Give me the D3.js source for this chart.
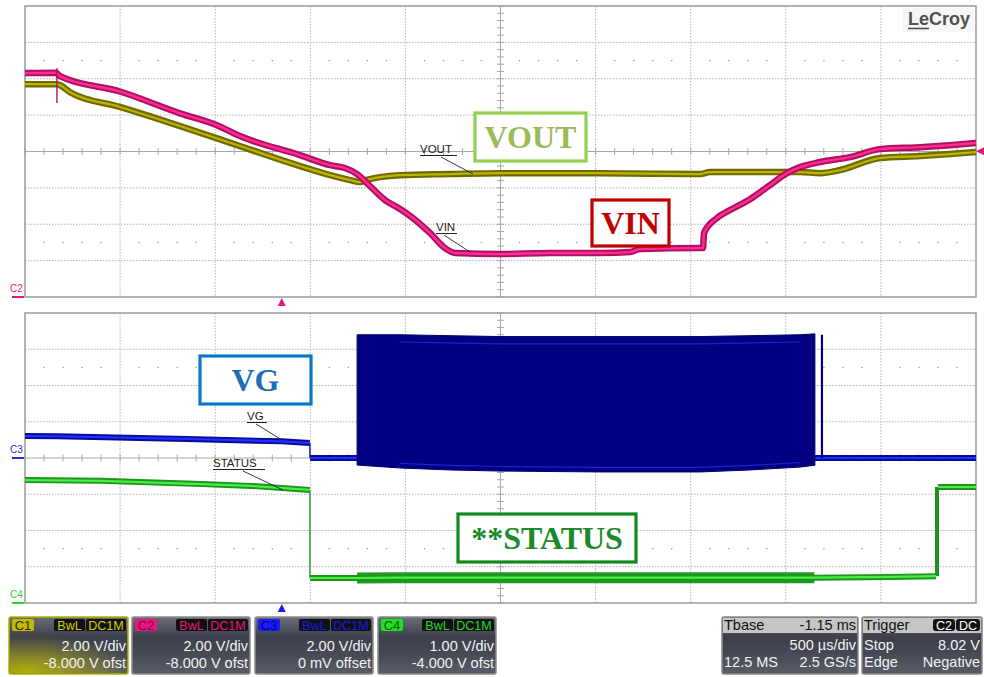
<!DOCTYPE html>
<html><head><meta charset="utf-8">
<script src="https://cdn.jsdelivr.net/npm/d3@7"></script>
<style>
body{margin:0;background:#fff;}
svg{display:block;font-family:"Liberation Sans",Arial,sans-serif;}
</style>
</head><body>
<svg id="c" width="984" height="677"></svg>
<script>
// ---------- DATA (time in ms, voltages in V) ----------
const timeDomain = [-1.35, 3.65];          // Tbase -1.15 ms, 500 µs/div, 10 div
const divTimes = d3.range(0, 11).map(i => -1.35 + 0.5 * i);

// C2 – VIN (2 V/div, -8 V offset)
const vinTime  = [-1.35,-1.187,-1.166,-0.851,-0.535,-0.341,-0.220,0.096,0.254,0.332,0.396,0.464,0.543,0.622,0.690,0.779,0.858,0.911,1.147,1.410,1.673,1.831,1.884,2.199,2.215,2.220,2.288,2.357,2.462,2.567,2.656,2.725,2.830,2.988,3.145,3.356,3.513,3.650];
const vinVolts = [12.31,12.33,12.14,11.30,10.10,9.45,8.85,7.80,7.25,7.09,6.76,6.10,5.33,4.84,4.34,3.52,2.69,2.42,2.36,2.42,2.42,2.47,2.64,2.69,2.69,3.52,4.34,4.78,5.38,6.15,6.81,7.14,7.42,7.69,8.13,8.24,8.35,8.47];
const vinGlitchTime = -1.182, vinGlitchRange = [10.66, 12.58];

// C1 – VOUT (2 V/div, -8 V offset)
const voutTime  = [-1.35,-1.182,-1.166,-1.113,-0.851,-0.535,-0.220,0.096,0.254,0.359,0.411,0.443,0.516,0.622,0.884,1.147,1.673,2.199,2.251,2.725,2.830,2.935,3.145,3.356,3.513,3.650];
const voutVolts = [11.70,11.70,11.65,11.26,10.45,9.40,8.30,7.20,6.70,6.43,6.32,6.43,6.59,6.70,6.76,6.81,6.81,6.76,6.87,6.87,6.81,6.98,7.64,7.75,7.86,7.97];

// C3 – VG (2 V/div, 0 offset)
const vgTime  = [-1.35,-1.182,-0.50,0.0,0.147,0.149,0.396,2.803,2.84,3.65];
const vgVolts = [1.21,1.20,1.05,0.92,0.83,0.0,0.0,0.0,0.0,0.0];
const vgBurstTime = [0.396,0.622,0.884,1.147,1.673,2.199,2.462,2.725,2.803];
const vgBurstHigh = [6.80,6.80,6.75,6.70,6.70,6.70,6.75,6.80,6.85];
const vgBurstLow  = [-0.39,-0.55,-0.66,-0.72,-0.77,-0.77,-0.66,-0.50,-0.40];
const vgSpikeTime = 2.84, vgSpikeHigh = 6.80;

// C4 – STATUS (1 V/div, -4 V offset)
const statusTime  = [-1.35,-0.95,-0.42,-0.16,0.147,0.149,0.396,0.60,1.50,2.80,3.20,3.44,3.45,3.65];
const statusVolts = [3.39,3.37,3.28,3.23,3.12,0.69,0.69,0.70,0.70,0.70,0.72,0.74,3.20,3.20];
const statusNoiseTime = [0.396,2.803];

// annotation texts
const bigLabels = ["VOUT","VIN","VG","**STATUS"];
const smallLabels = ["VOUT","VIN","VG","STATUS"];
const chanNames = ["C1","C2","C3","C4"];
const chanScales = ["2.00 V/div","2.00 V/div","2.00 V/div","1.00 V/div"];
const chanOffsets = ["-8.000 V ofst","-8.000 V ofst","0 mV offset","-4.000 V ofst"];
const chanColors = ["#c2bb00","#e8167f","#1a1aff","#22e022"];
const chanBadgeText = ["#2b2a00","#8a0040","#00007a","#0a5a0a"];
const chanTagText = ["#d8d000","#e8167f","#1818e8","#22dd22"];
const tbaseRows = [["Tbase","-1.15 ms"],["","500 µs/div"],["12.5 MS","2.5 GS/s"]];
const triggerRows = [["Trigger",""],["Stop","8.02 V"],["Edge","Negative"]];

// ---------- SCALES ----------
const svg = d3.select("#c");
const L = 25, R = 976;
const x = d3.scaleLinear().domain(timeDomain).range([L, R]);
const yTop = d3.scaleLinear().domain([0, 16]).range([297, 6]);     // C1/C2
const yC3 = d3.scaleLinear().domain([-8, 8]).range([603, 313]);     // VG
const yC4 = d3.scaleLinear().domain([0, 8]).range([603, 313]);      // STATUS

// ---------- GRID ----------
function panel(y, vals, center, dotVals, minorStep) {
  const g = svg.append("g");
  const [y0, y1] = [y(vals[vals.length-1]), y(vals[0])];
  g.selectAll(".gv").data(divTimes.slice(1,-1)).join("line")
    .attr("x1", d => x(d)).attr("x2", d => x(d)).attr("y1", y0).attr("y2", y1)
    .attr("stroke", d => Math.abs(d-1.15) < 1e-6 ? "#a8a8a8" : "#b4b4b4")
    .attr("stroke-dasharray", d => Math.abs(d-1.15) < 1e-6 ? null : "1.5,1.5");
  g.selectAll(".gh").data(vals.slice(1,-1)).join("line")
    .attr("x1", L).attr("x2", R).attr("y1", d => y(d)).attr("y2", d => y(d))
    .attr("stroke", d => d === center ? "#a8a8a8" : "#b4b4b4")
    .attr("stroke-dasharray", d => d === center ? null : "1.5,1.5");
  const tms = d3.range(0, 51).map(i => timeDomain[0] + i*0.1);
  g.selectAll(".tk").data(tms).join("line")
    .attr("x1", d => x(d)).attr("x2", d => x(d))
    .attr("y1", y(center)-3.5).attr("y2", y(center)+3.5).attr("stroke", "#a8a8a8");
  const vt = d3.range(0, 41).map(i => vals[0] + i*minorStep);
  g.selectAll(".tv").data(vt).join("line")
    .attr("x1", x(1.15)-3.5).attr("x2", x(1.15)+3.5)
    .attr("y1", d => y(d)).attr("y2", d => y(d)).attr("stroke", "#a8a8a8");
  dotVals.forEach(v => {
    g.selectAll(null).data(tms.filter((d,i) => i % 5 !== 0)).join("rect")
      .attr("x", d => x(d)-0.6).attr("y", y(v)-0.6).attr("width", 1.3).attr("height", 1.3).attr("fill", "#9a9a9a");
  });
  g.append("rect").attr("x", L).attr("y", y0).attr("width", R-L).attr("height", y1-y0)
    .attr("fill", "none").attr("stroke", "#a0a0a0").attr("stroke-width", 1.6);
}
panel(yTop, d3.range(0, 17, 2), 8, [13, 3], 0.4);
panel(yC3, d3.range(-8, 9, 2), 0, [5, -5], 0.4);

// ---------- TRACES ----------
function drawLine(data, y, outer, inner, wOuter, wInner, curve) {
  const ln = d3.line().x(d => x(d[0])).y(d => y(d[1])).curve(curve || d3.curveLinear);
  svg.append("path").attr("d", ln(data)).attr("fill", "none").attr("stroke", outer)
    .attr("stroke-width", wOuter).attr("stroke-linejoin", "round");
  svg.append("path").attr("d", ln(data)).attr("fill", "none").attr("stroke", inner)
    .attr("stroke-width", wInner).attr("stroke-linejoin", "round");
}
const vout = d3.zip(voutTime, voutVolts);
const vin = d3.zip(vinTime, vinVolts);
drawLine(vout, yTop, "#6e6a00", "#bdb400", 6.5, 2.2, d3.curveMonotoneX);
drawLine(vin, yTop, "#b0105e", "#ff2c98", 6.5, 2.4, d3.curveMonotoneX);
svg.append("line").attr("x1", x(vinGlitchTime)).attr("x2", x(vinGlitchTime))
  .attr("y1", yTop(vinGlitchRange[0])).attr("y2", yTop(vinGlitchRange[1]))
  .attr("stroke", "#b0105e").attr("stroke-width", 1.4);

// STATUS
const stat = d3.zip(statusTime, statusVolts);
const statPre = stat.filter(d => d[0] <= 0.147);
const statLow = stat.filter(d => d[0] >= 0.149 && d[0] <= 3.44);
const statHigh = stat.filter(d => d[0] >= 3.45);
svg.append("line").attr("x1", x(0.148)).attr("x2", x(0.148)).attr("y1", yC4(3.12)).attr("y2", yC4(0.69))
  .attr("stroke", "#3a9a3a").attr("stroke-width", 1.5);
svg.append("line").attr("x1", x(3.445)).attr("x2", x(3.445)).attr("y1", yC4(0.74)).attr("y2", yC4(3.2))
  .attr("stroke", "#1f8f1f").attr("stroke-width", 4);
const nb = statLow.filter(d => d[0] >= statusNoiseTime[0] && d[0] <= statusNoiseTime[1]);
svg.append("path").attr("d", d3.area().x(d => x(d[0])).y0(d => yC4(d[1]) - 5.5).y1(d => yC4(d[1]) + 5.5)(nb))
  .attr("fill", "#1f9a1f");
drawLine(statPre, yC4, "#1f941f", "#44f044", 6, 2.2);
drawLine(statLow, yC4, "#1f941f", "#44f044", 6, 2.2);
drawLine(statHigh, yC4, "#1f941f", "#44f044", 6, 2.2);

// VG
const vg = d3.zip(vgTime, vgVolts);
const vgPre = vg.filter(d => d[0] <= 0.147);
const vgPost = vg.filter(d => d[0] >= 0.149);
svg.append("line").attr("x1", x(0.148)).attr("x2", x(0.148)).attr("y1", yC3(0.83)).attr("y2", yC3(0))
  .attr("stroke", "#1a1ad0").attr("stroke-width", 1.5);
drawLine(vgPre, yC3, "#0a0a9a", "#2030ff", 6, 2.2);
drawLine(vgPost, yC3, "#0a0a9a", "#2030ff", 6, 2.2);
const burst = d3.zip(vgBurstTime, vgBurstHigh, vgBurstLow);
svg.append("path").attr("d", d3.area().x(d => x(d[0])).y0(d => yC3(d[2])).y1(d => yC3(d[1]))(burst))
  .attr("fill", "#000080").attr("stroke", "#000070").attr("stroke-width", 1);
svg.append("path").attr("d", d3.line().x(d => x(d[0])).y(d => yC3(d[1] - 0.4))(burst.slice(1, -1)))
  .attr("fill", "none").attr("stroke", "#1c2ee0").attr("stroke-width", 1.2).attr("opacity", 0.8);
svg.append("path").attr("d", d3.line().x(d => x(d[0])).y(d => yC3(d[2] + 0.25))(burst.slice(1, -1)))
  .attr("fill", "none").attr("stroke", "#1c2ee0").attr("stroke-width", 1.2).attr("opacity", 0.8);
svg.append("line").attr("x1", x(vgSpikeTime)).attr("x2", x(vgSpikeTime)).attr("y1", yC3(0)).attr("y2", yC3(vgSpikeHigh))
  .attr("stroke", "#000090").attr("stroke-width", 2.2);

// ---------- CHANNEL MARKERS ----------
function gndMark(label, yv, color) {
  svg.append("text").attr("x", 10).attr("y", yv - 5).attr("font-size", 10).attr("fill", color).text(label);
  svg.append("line").attr("x1", 12).attr("x2", 24).attr("y1", yv).attr("y2", yv).attr("stroke", color).attr("stroke-width", 2);
}
gndMark("C2", yTop(0), "#e8167f");
gndMark("C3", yC3(0), "#2a2ad8");
gndMark("C4", yC4(0), "#2ad82a");
svg.append("path").attr("d", `M${x(0)-4},306 L${x(0)+4},306 L${x(0)},298 Z`).attr("fill", "#e8167f");
svg.append("path").attr("d", `M${x(0)-4},612 L${x(0)+4},612 L${x(0)},604 Z`).attr("fill", "#1a1aee");
svg.append("path").attr("d", `M976,${yTop(8.02)} L984,${yTop(8.02)-4} L984,${yTop(8.02)+4} Z`).attr("fill", "#e8167f");

// LeCroy logo
svg.append("rect").attr("x", 903).attr("y", 8).attr("width", 71).attr("height", 24).attr("fill", "#f6f6f6");
svg.append("text").attr("x", 908).attr("y", 25).attr("font-size", 18).attr("font-weight", "bold")
  .attr("fill", "#505050").text("LeCroy");
svg.append("line").attr("x1", 908).attr("x2", 929).attr("y1", 28.5).attr("y2", 28.5).attr("stroke", "#505050").attr("stroke-width", 1.6);

// ---------- SMALL LABELS ----------
const smallPos = [
  {x: 420, y: 153, w: 37, lx1: 441, ly1: 157, lx2: 473, ly2: 174},
  {x: 436, y: 231, w: 21, lx1: 444, ly1: 235, lx2: 470, ly2: 252},
  {x: 247, y: 420, w: 20, lx1: 256, ly1: 424, lx2: 282, ly2: 440},
  {x: 213, y: 467, w: 52, lx1: 243, ly1: 471, lx2: 283, ly2: 490}
];
smallLabels.forEach((t, i) => {
  const p = smallPos[i];
  svg.append("text").attr("x", p.x).attr("y", p.y).attr("font-size", 11.5).attr("fill", "#222").text(t);
  svg.append("line").attr("x1", p.x).attr("x2", p.x + p.w).attr("y1", p.y + 2.5).attr("y2", p.y + 2.5).attr("stroke", "#222");
  svg.append("line").attr("x1", p.lx1).attr("x2", p.lx2).attr("y1", p.ly1).attr("y2", p.ly2).attr("stroke", "#222").attr("stroke-width", 0.9);
});

// ---------- BIG LABELS ----------
const bigPos = [
  {x0: 475, y0: 113, x1: 586, y1: 161, stroke: "#92d050", fill: "#9bbb59"},
  {x0: 592, y0: 200, x1: 669, y1: 246, stroke: "#c00000", fill: "#c00000"},
  {x0: 200, y0: 356, x1: 311, y1: 404, stroke: "#0a78c8", fill: "#1f6db5"},
  {x0: 458, y0: 514, x1: 636, y1: 562, stroke: "#108a20", fill: "#1a8a2a"}
];
bigLabels.forEach((t, i) => {
  const p = bigPos[i];
  svg.append("rect").attr("x", p.x0).attr("y", p.y0).attr("width", p.x1 - p.x0).attr("height", p.y1 - p.y0)
    .attr("fill", "#fff").attr("stroke", p.stroke).attr("stroke-width", 3.2);
  svg.append("text").attr("x", (p.x0 + p.x1) / 2).attr("y", (p.y0 + p.y1) / 2 + 11)
    .attr("text-anchor", "middle").attr("font-family", "'Liberation Serif','Times New Roman',serif")
    .attr("font-weight", "bold").attr("font-size", 32).attr("fill", p.fill).text(t);
});

// ---------- INFO BOXES ----------
const defs = svg.append("defs");
const bg = defs.append("linearGradient").attr("id", "body").attr("x1", 0).attr("y1", 0).attr("x2", 0).attr("y2", 1);
[["0%", "#6a6e79"], ["35%", "#3c404b"], ["60%", "#444853"], ["100%", "#585c66"]].forEach(s => bg.append("stop").attr("offset", s[0]).attr("stop-color", s[1]));
const yg = defs.append("radialGradient").attr("id", "yel").attr("cx", 0.15).attr("cy", 1).attr("r", 0.9);
yg.append("stop").attr("offset", "0%").attr("stop-color", "#b8b400").attr("stop-opacity", 0.95);
yg.append("stop").attr("offset", "100%").attr("stop-color", "#b8b400").attr("stop-opacity", 0);

const boxTop = 617, boxBot = 674, hdrBot = 632;
const chanX = [[9, 128], [132, 250], [255, 373], [378, 496]];
chanNames.forEach((n, i) => {
  const [x0, x1] = chanX[i];
  const g = svg.append("g");
  g.append("rect").attr("x", x0).attr("y", boxTop).attr("width", x1 - x0).attr("height", boxBot - boxTop)
    .attr("rx", 2).attr("fill", "url(#body)").attr("stroke", i === 0 ? "#b4b000" : "#8c8c8c").attr("stroke-width", 1.5);
  if (i === 0) g.append("rect").attr("x", x0 + 1).attr("y", boxTop + 14).attr("width", x1 - x0 - 2).attr("height", boxBot - boxTop - 15).attr("fill", "url(#yel)");
  g.append("rect").attr("x", x0 + 3).attr("y", 619).attr("width", 22).attr("height", 12).attr("rx", 2).attr("fill", chanColors[i]);
  g.append("text").attr("x", x0 + 14).attr("y", 630).attr("text-anchor", "middle").attr("font-size", 13).attr("fill", chanBadgeText[i]).text(n);
  [["BwL", x1 - 74, 31], ["DC1M", x1 - 42, 40]].forEach(b => {
    g.append("rect").attr("x", b[1]).attr("y", 619).attr("width", b[2]).attr("height", 12).attr("rx", 2).attr("fill", "#111");
    g.append("text").attr("x", b[1] + b[2] / 2).attr("y", 630).attr("text-anchor", "middle").attr("font-size", 12.5).attr("fill", chanTagText[i]).text(b[0]);
  });
  g.append("text").attr("x", x1 - 2).attr("y", 651).attr("text-anchor", "end").attr("font-size", 14.5).attr("fill", "#f2f2f2").text(chanScales[i]);
  g.append("text").attr("x", x1 - 2).attr("y", 668).attr("text-anchor", "end").attr("font-size", 14.5).attr("fill", "#f2f2f2").text(chanOffsets[i]);
});

function statBox(x0, x1, rows, badges) {
  const g = svg.append("g");
  g.append("rect").attr("x", x0).attr("y", boxTop).attr("width", x1 - x0).attr("height", boxBot - boxTop)
    .attr("rx", 2).attr("fill", "url(#body)").attr("stroke", "#8c8c8c").attr("stroke-width", 1.5);
  g.append("rect").attr("x", x0 + 1).attr("y", boxTop + 1).attr("width", x1 - x0 - 2).attr("height", hdrBot - boxTop).attr("fill", "#c6c6c6");
  rows.forEach((r, k) => {
    const yy = [630, 650, 667][k];
    const col = k === 0 ? "#111" : "#f2f2f2";
    if (r[0]) g.append("text").attr("x", x0 + 2).attr("y", yy).attr("font-size", 14.5).attr("fill", col).text(r[0]);
    if (r[1]) g.append("text").attr("x", x1 - 2).attr("y", yy).attr("text-anchor", "end").attr("font-size", 14.5).attr("fill", col).text(r[1]);
  });
  (badges || []).forEach(b => {
    g.append("rect").attr("x", b[1]).attr("y", 619).attr("width", b[2]).attr("height", 12).attr("rx", 3).attr("fill", "#111");
    g.append("text").attr("x", b[1] + b[2] / 2).attr("y", 630).attr("text-anchor", "middle").attr("font-size", 12.5).attr("fill", "#fff").text(b[0]);
  });
}
statBox(722, 858, tbaseRows);
statBox(862, 982, triggerRows, [["C2", 933, 22], ["DC", 956, 24]]);
</script>
</body></html>
